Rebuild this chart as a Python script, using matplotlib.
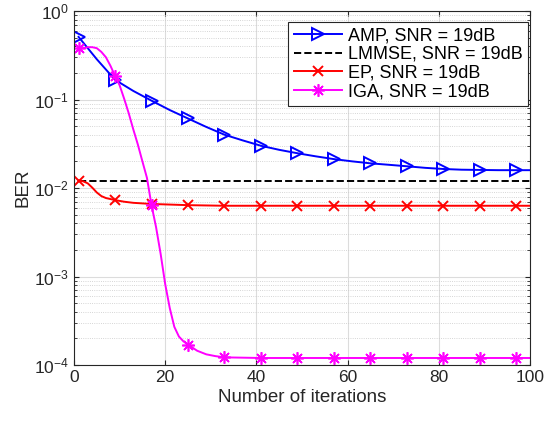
import matplotlib
matplotlib.use("Agg")
import matplotlib.pyplot as plt

plt.rcParams['font.family'] = ['Liberation Sans', 'DejaVu Sans']
plt.rcParams['mathtext.fontset'] = 'custom'
plt.rcParams['mathtext.rm'] = 'Liberation Sans'

# AMP
amp_iter = [1, 5, 9, 13, 17, 21, 25, 29, 33, 37, 41, 45, 49, 53, 57, 61,
            65, 69, 73, 77, 81, 85, 89, 93, 97, 100]
amp_ber = [0.51, 0.285, 0.167, 0.125, 0.097, 0.076, 0.061, 0.049, 0.040, 0.0345,
           0.030, 0.027, 0.0247, 0.0228, 0.0212, 0.020, 0.019, 0.0183, 0.0176,
           0.0169, 0.0164, 0.0161, 0.016, 0.0159, 0.0159, 0.0159]

# LMMSE
lmmse_iter = [1, 100]
lmmse_ber = [0.0121, 0.0121]

# EP
ep_iter = [1, 2, 3, 4, 5, 6, 7, 8, 9, 11, 13, 15, 17, 21, 25, 33, 41, 49, 57,
           65, 73, 81, 89, 97, 100]
ep_ber = [0.0121, 0.0119, 0.0113, 0.0101, 0.0089, 0.0081, 0.0077, 0.0075,
          0.0073, 0.0070, 0.0068, 0.0067, 0.0066, 0.0065, 0.0064, 0.0063,
          0.0063, 0.0063, 0.0063, 0.0063, 0.0063, 0.0063, 0.0063, 0.0063, 0.0063]

# IGA
iga_iter = [1, 2, 3, 4, 5, 6, 7, 8, 9, 10, 11, 12, 13, 14, 15, 16, 17, 18, 19,
            20, 21, 22, 23, 24, 25, 27, 29, 31, 33, 41, 49, 57, 65, 73, 81, 89,
            97, 100]
iga_ber = [0.38, 0.38, 0.39, 0.39, 0.38, 0.345, 0.30, 0.24, 0.185, 0.145, 0.102,
           0.070, 0.046, 0.031, 0.020, 0.013, 0.0064, 0.0036, 0.0018, 0.00082,
           0.00044, 0.00027, 0.00021, 0.000185, 0.00017, 0.000145, 0.000132,
           0.000126, 0.000122, 0.00012, 0.00012, 0.00012, 0.00012,
           0.00012, 0.00012, 0.00012, 0.00012, 0.00012]

marker_iters = list(range(1, 100, 8))


def mark_idx(iters):
    return [i for i, v in enumerate(iters) if v in marker_iters]


fig = plt.figure(figsize=(5.45, 4.21), dpi=100)
ax = fig.add_axes([74 / 545, 56 / 421, 456 / 545, 354 / 421])

ax.semilogy(amp_iter, amp_ber, color='blue', lw=1.4, marker='>', ms=8.5,
            mfc='none', mew=1.4, markevery=mark_idx(amp_iter),
            label='AMP, SNR = 19dB')
ax.semilogy(lmmse_iter, lmmse_ber, color='black', lw=1.4, ls='--',
            label='LMMSE, SNR = 19dB')
ax.semilogy(ep_iter, ep_ber, color='red', lw=1.4, marker='x', ms=7,
            mew=1.4, markevery=mark_idx(ep_iter), label='EP, SNR = 19dB')
ax.semilogy(iga_iter, iga_ber, color='magenta', lw=1.4, marker=(8, 2, 0),
            ms=9, mew=1.2, markevery=mark_idx(iga_iter),
            label='IGA, SNR = 19dB')

ax.set_xlim(0, 100)
ax.set_ylim(1e-4, 1)
ax.set_xticks([0, 20, 40, 60, 80, 100])
ax.set_xlabel('Number of iterations', fontsize=13.5, color='#262626',
              labelpad=3)
ax.set_ylabel('BER', fontsize=13.5, color='#262626', labelpad=2)

ax.grid(True, which='major', color='#dcdcdc', lw=0.8, ls='-')
ax.grid(True, which='minor', axis='y', color='#c8c8c8', lw=0.6, ls=':')
ax.set_axisbelow(True)
ax.tick_params(which='both', direction='in', top=True, right=True,
               colors='#262626', labelsize=12.5)
ax.tick_params(axis='x', which='minor', top=False, bottom=False)
for s in ax.spines.values():
    s.set_color('#262626')
    s.set_linewidth(0.8)

leg = ax.legend(loc='upper right', bbox_to_anchor=(0.9956, 0.970),
                borderaxespad=0, fontsize=13, numpoints=1, handlelength=2.7,
                fancybox=False, edgecolor='#262626', framealpha=1,
                labelspacing=0.1, handletextpad=0.3, borderpad=0.3)
leg.get_frame().set_linewidth(0.8)

fig.savefig('out.png', dpi=100)
